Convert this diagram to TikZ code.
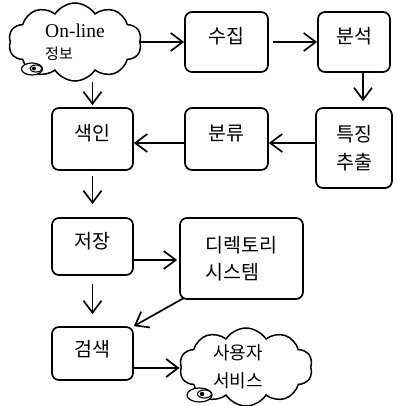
\documentclass[tikz,border=0pt]{standalone}
\usepackage{fontspec}
\setmainfont{Liberation Serif}
\newfontfamily\kr{Noto Sans CJK KR}
\usetikzlibrary{shapes.symbols,arrows.meta}
\begin{document}
\begin{tikzpicture}[x=1pt,y=-1pt,
  box/.style={draw,line width=1.7pt,rounded corners=7pt,font=\kr\fontsize{19.5}{27.5}\selectfont,align=center,inner sep=0pt},
  one/.style={text height=14pt,text depth=10pt},
  cl/.style={draw,cloud,cloud puffs=10,cloud puff arc=115,aspect=1.7,line width=1.5pt,inner sep=0pt,fill=white},
  arr/.style={line width=1.7pt,-{Straight Barb[length=12pt,width=18pt,line width=1.7pt]}},
  blob/.style={line width=1.2pt,fill=white}]
\useasboundingbox (0,0) rectangle (396,406);
% nodes
\node[cl,minimum width=133pt,minimum height=78pt,align=left,font=\fontsize{19.5}{22}\selectfont] (c1) at (75,42)
  {On-line\\{\kr\fontsize{15}{16}\selectfont 정보}};
\node[box,one,minimum width=83pt,minimum height=60pt] (sj) at (226.5,42) {수집};
\node[box,one,minimum width=72pt,minimum height=60pt] (bs) at (354,42) {분석};
\node[box,minimum width=76pt,minimum height=80pt] (tj) at (354,148) {특징\\추출};
\node[box,one,minimum width=83pt,minimum height=62pt] (br) at (226.5,139) {분류};
\node[box,one,minimum width=81pt,minimum height=62pt] (si) at (92.5,139) {색인};
\node[box,one,minimum width=81pt,minimum height=57pt] (jj) at (92.5,246.5) {저장};
\node[box,minimum width=123pt,minimum height=81pt,align=left] (dr) at (241.5,258.5) {디렉토리\\시스템};
\node[box,minimum width=81pt,minimum height=53pt,text height=14pt,text depth=8pt] (gs) at (92.5,353.5) {검색};
\node[cl,minimum width=133pt,minimum height=78pt,align=left,font=\kr\fontsize{18}{28}\selectfont] (c2) at (246,367) {사용자\hspace*{16pt}\\서비스};
% thought blobs
\draw[blob] (32,69) ellipse [x radius=10.5pt,y radius=6pt];
\draw[line width=1.1pt] (36,68.5) ellipse [x radius=6pt,y radius=3.5pt];
\fill (34,68.5) circle [radius=2pt];
\draw[blob] (199.5,395) ellipse [x radius=12.5pt,y radius=7pt];
\draw[line width=1.1pt] (204.5,394) ellipse [x radius=7pt,y radius=4pt];
\fill (202,394) circle [radius=2.2pt];
% helper coordinates
\coordinate (ya) at (0,143);
\coordinate (yb) at (0,260);
\coordinate (yc) at (0,368);
% connectors
\draw[arr] (c1.east |- sj.west) -- (sj.west);
\draw[arr,shorten <=4pt] (sj) -- (bs);
\draw[arr,shorten >=6pt] ([xshift=9pt]bs.south) -- ([xshift=9pt]tj.north);
\draw[arr] (tj.west |- ya) -- (br.east |- ya);
\draw[arr] (br.west |- ya) -- (si.east |- ya);
\draw[arr,shorten >=2pt] (si.north |- c1.south) -- (si.north);
\draw[arr,shorten <=5pt,shorten >=13pt] (si.south) -- (jj.north);
\draw[arr,shorten >=2pt] (jj.east |- yb) -- (dr.west |- yb);
\draw[arr,shorten <=8pt,shorten >=12pt] (jj.south) -- (gs.north);
\draw[arr] ([xshift=5pt,yshift=2pt]dr.south west) -- (gs.north east);
\draw[arr,shorten >=1pt] (gs.east |- yc) -- (c2.west |- yc);
\end{tikzpicture}
\end{document}
